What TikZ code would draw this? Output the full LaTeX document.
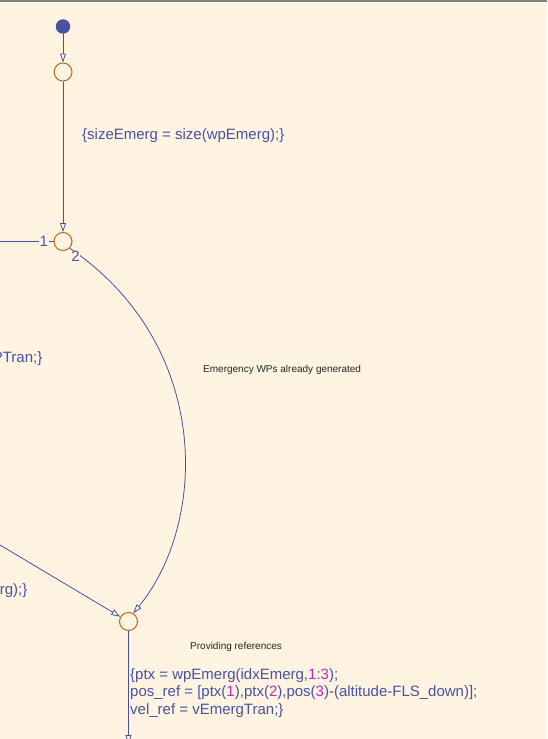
\documentclass[tikz,border=0pt]{standalone}
\usepackage{fontspec}
\setmainfont{Liberation Sans}
\usetikzlibrary{arrows.meta,positioning,calc}
\definecolor{sfbg}{RGB}{255,244,225}
\definecolor{sfblue}{RGB}{72,82,162}
\definecolor{sforange}{RGB}{198,100,22}
\definecolor{sfmag}{RGB}{196,40,196}
\definecolor{sfgray}{RGB}{128,128,128}
\newcommand{\mg}[1]{\textcolor{sfmag}{#1}}

\begin{document}
\begin{tikzpicture}[x=1pt,y=-1pt,
  junc/.style={circle,draw=sforange,line width=1pt,minimum size=18pt,inner sep=0pt},
  dflt/.style={circle,fill=sfblue,minimum size=14.5pt,inner sep=0pt},
  trans/.style={draw=sfblue,line width=0.8pt,-{Triangle[open,length=9pt,width=6pt,fill=sfbg]}},
  act/.style={text=sfblue,font=\fontsize{15}{17.5}\selectfont,inner sep=0pt},
  cmt/.style={text=black!85,font=\fontsize{10}{12}\selectfont,inner sep=0pt},
  num/.style={text=sfblue,font=\fontsize{15}{15}\selectfont,fill=sfbg,inner sep=0.5pt}]
\useasboundingbox (0,0) rectangle (547,739);
\fill [sfbg] (0,0) rectangle (547,739);
\clip (0,0) rectangle (547,739);
\draw [sfgray,line width=3pt] (0,0.5) -- (547,0.5);

\node [dflt] (start) at (63,26.5) {};
\node [junc] (j1) at (63,72) {};
\node [junc] (j2) at (63,241.5) {};
\node [junc] (j3) at (128.5,621.5) {};
\coordinate (inA) at (0,241.5);
\coordinate (inB) at (0,545);
\coordinate (out) at (128.5,744);

\draw [trans] (start) -- (j1);
\draw [trans] (j1) -- (j2);
\draw [sfblue,line width=0.8pt] (inA) -- (j2) node [num,pos=0.82] {1};
\draw [trans] (j2.-45) .. controls (212,345) and (208,522) .. (j3.60);
\node [num] (lbl2) at (75.5,256.5) {2};
\draw [trans] (inB) -- (j3.150);
\draw [trans] (j3) -- (out);

\node [act,anchor=base west] (sizeact) at (82,139) {\{sizeEmerg = size(wpEmerg);\}};
\node [act,anchor=base east] (tranact) at (42.5,362) {PTran;\}};
\node [act,anchor=base east] (emgact) at (27.5,594) {rg);\}};
\node [cmt,anchor=west] (gencmt) at (203,370) {Emergency WPs already generated};
\node [cmt,anchor=west] (refcmt) at (190,647) {Providing references};
\node [act,anchor=north west,align=left] (refact) at (130,668)
  {\{ptx = wpEmerg(idxEmerg,\mg{1}:\mg{3});\\
   pos\_ref = [ptx(\mg{1}),ptx(\mg{2}),pos(\mg{3})-(altitude-FLS\_down)];\\
   vel\_ref = vEmergTran;\}};
\end{tikzpicture}
\end{document}
